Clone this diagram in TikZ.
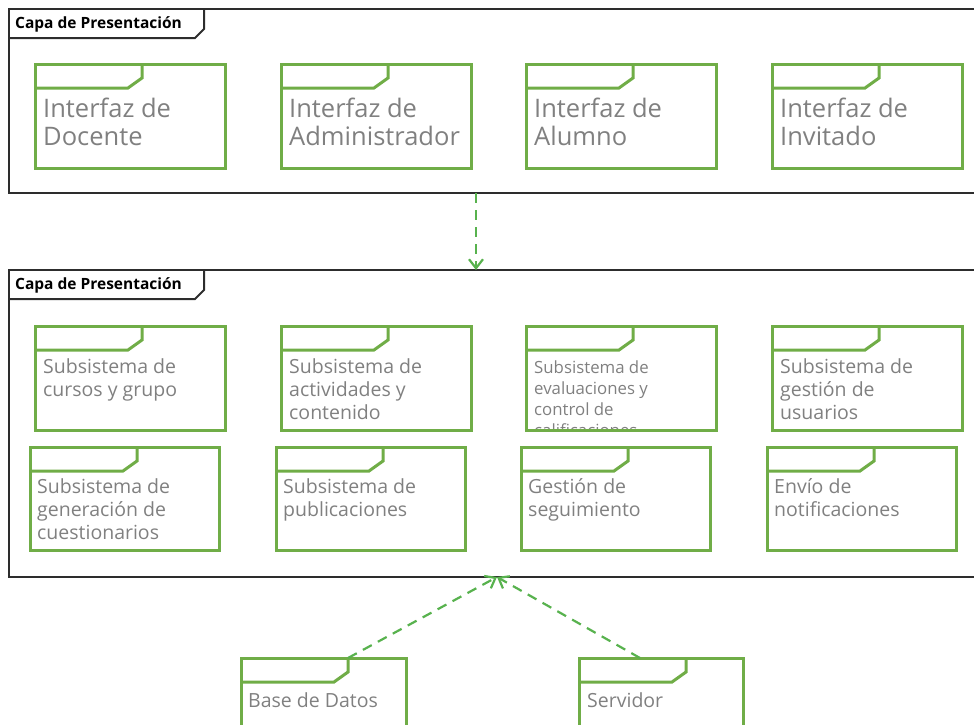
\documentclass[tikz,border=0pt]{standalone}
\usepackage{fontspec}
\setmainfont{Open Sans}
\usetikzlibrary{arrows.meta,calc}

\definecolor{pkggreen}{RGB}{112,173,71}
\definecolor{linkgreen}{RGB}{88,178,78}
\definecolor{labelgrey}{RGB}{128,128,128}
\definecolor{framegrey}{RGB}{45,45,45}

% package tab in the top-left corner of a package box
\newcommand\pkgtab[1]{%
  \draw[pkgline] ($(#1.north west)+(107,0)$) -- ++(0,14) -- ++(-14,10) -- ($(#1.north west)+(0,24)$);}
% name tab of a frame
\newcommand\frametab[2]{%
  \draw[frameline] ($(#1.north west)+(195,0)$) -- ++(0,20) -- ++(-9,9) -- ($(#1.north west)+(0,29)$);
  \node[framelabel] (#1-name) at ($(#1.north west)+(6,19)$) {#2};}

\begin{document}
\begin{tikzpicture}[x=1pt,y=-1pt,
  frameline/.style={draw=framegrey, line width=2pt},
  frame/.style={frameline, rectangle, inner sep=0pt, outer sep=0pt, anchor=north west},
  framelabel/.style={anchor=base west, inner sep=0pt, font=\bfseries\fontsize{15.5}{17}\selectfont},
  pkgline/.style={draw=pkggreen, line width=3pt},
  pkgbox/.style={pkgline, rectangle, inner sep=0pt, outer sep=0pt, anchor=north west, minimum width=190pt, minimum height=104pt},
  % text nodes are placed by the baseline of their last line
  bigtext/.style={anchor=base west, inner sep=0pt, align=left, text=labelgrey, font=\fontsize{25.5}{28}\selectfont},
  midtext/.style={anchor=base west, inner sep=0pt, align=left, text=labelgrey, font=\fontsize{19.5}{23}\selectfont},
  smalltext/.style={anchor=base west, inner sep=0pt, align=left, text=labelgrey, font=\fontsize{16.8}{21}\selectfont},
  link/.style={draw=linkgreen, line width=2.2pt, dash pattern=on 10pt off 7pt, -{Straight Barb[length=9pt,width=14pt,line width=2.2pt]}}
]
\useasboundingbox (0,0) rectangle (974,724);

% ---------- presentation layer ----------
\node[frame, minimum width=981pt, minimum height=184pt] (f1) at (9,9) {};
\frametab{f1}{Capa de Presentación}

\node[pkgbox] (docente) at (35,64) {};
\node[pkgbox] (admin)   at (281,64) {};
\node[pkgbox] (alumno)  at (526,64) {};
\node[pkgbox] (invit)   at (772,64) {};
\foreach \p in {docente,admin,alumno,invit} {\pkgtab{\p}}
\node[bigtext] (docente-t) at ($(docente.north west)+(8,81)$) {Interfaz de\\Docente};
\node[bigtext] (admin-t)   at ($(admin.north west)+(8,81)$)   {Interfaz de\\Administrador};
\node[bigtext] (alumno-t)  at ($(alumno.north west)+(8,81)$)  {Interfaz de\\Alumno};
\node[bigtext] (invit-t)   at ($(invit.north west)+(8,81)$)   {Interfaz de\\Invitado};

% ---------- subsystem layer ----------
\node[frame, minimum width=981pt, minimum height=307pt] (f2) at (9,270) {};
\frametab{f2}{Capa de Presentación}

\node[pkgbox] (cursos)  at (35,326) {};
\node[pkgbox] (activ)   at (281,326) {};
\node[pkgbox, draw=none] (evalua)  at (526,326) {};
\node[pkgbox] (usuar)   at (772,326) {};
\node[pkgbox, minimum width=189pt, minimum height=103pt] (cuest)  at (30,447) {};
\node[pkgbox, minimum width=189pt, minimum height=103pt] (publ)   at (276,447) {};
\node[pkgbox, minimum width=189pt, minimum height=103pt] (segui)  at (521,447) {};
\node[pkgbox, minimum width=189pt, minimum height=103pt] (notif)  at (767,447) {};

\node[midtext] (cursos-t) at ($(cursos.north west)+(8,70)$) {Subsistema de\\cursos y grupo};
\node[midtext] (activ-t)  at ($(activ.north west)+(8,93)$)  {Subsistema de\\actividades y\\contenido};
% the last line of this label runs into the bottom border
\begin{scope}
  \clip (evalua.north west) rectangle (evalua.south east);
  \node[smalltext] (evalua-t) at ($(evalua.north west)+(8,110)$) {Subsistema de\\evaluaciones y\\control de\\calificaciones};
\end{scope}
\draw[pkgline] (evalua.north west) rectangle (evalua.south east);
\node[midtext] (usuar-t)  at ($(usuar.north west)+(8,93)$)  {Subsistema de\\gestión de\\usuarios};
\node[midtext] (cuest-t)  at ($(cuest.north west)+(7,92)$)  {Subsistema de\\generación de\\cuestionarios};
\node[midtext] (publ-t)   at ($(publ.north west)+(7,69)$)   {Subsistema de\\publicaciones};
\node[midtext] (segui-t)  at ($(segui.north west)+(7,69)$)  {Gestión de\\seguimiento};
\node[midtext] (notif-t)  at ($(notif.north west)+(7,69)$)  {Envío de\\notificaciones};
\foreach \p in {cursos,activ,evalua,usuar,cuest,publ,segui,notif} {\pkgtab{\p}}

% ---------- infrastructure ----------
\node[pkgbox, minimum width=165pt, minimum height=90pt] (db)  at (241,658) {};
\node[pkgbox, minimum width=164pt, minimum height=90pt] (srv) at (579,658) {};
\pkgtab{db}
\pkgtab{srv}
\node[midtext] (db-t)  at ($(db.north west)+(7,49)$)  {Base de Datos};
\node[midtext] (srv-t) at ($(srv.north west)+(8,49)$) {Servidor};

% ---------- dependencies ----------
\coordinate (f1-dep)  at ($(f1.south west)+(467,0)$);
\coordinate (f2-in)   at ($(f2.north west)+(467,0)$);
\coordinate (f2-base) at ($(f2.south west)+(488,0)$);
\draw[link] (f1-dep) -- (f2-in);
\draw[link] ($(db.north west)+(107,0)$) -- (f2-base);
\draw[link] ($(srv.north west)+(61,0)$) -- (f2-base);
\end{tikzpicture}
\end{document}
